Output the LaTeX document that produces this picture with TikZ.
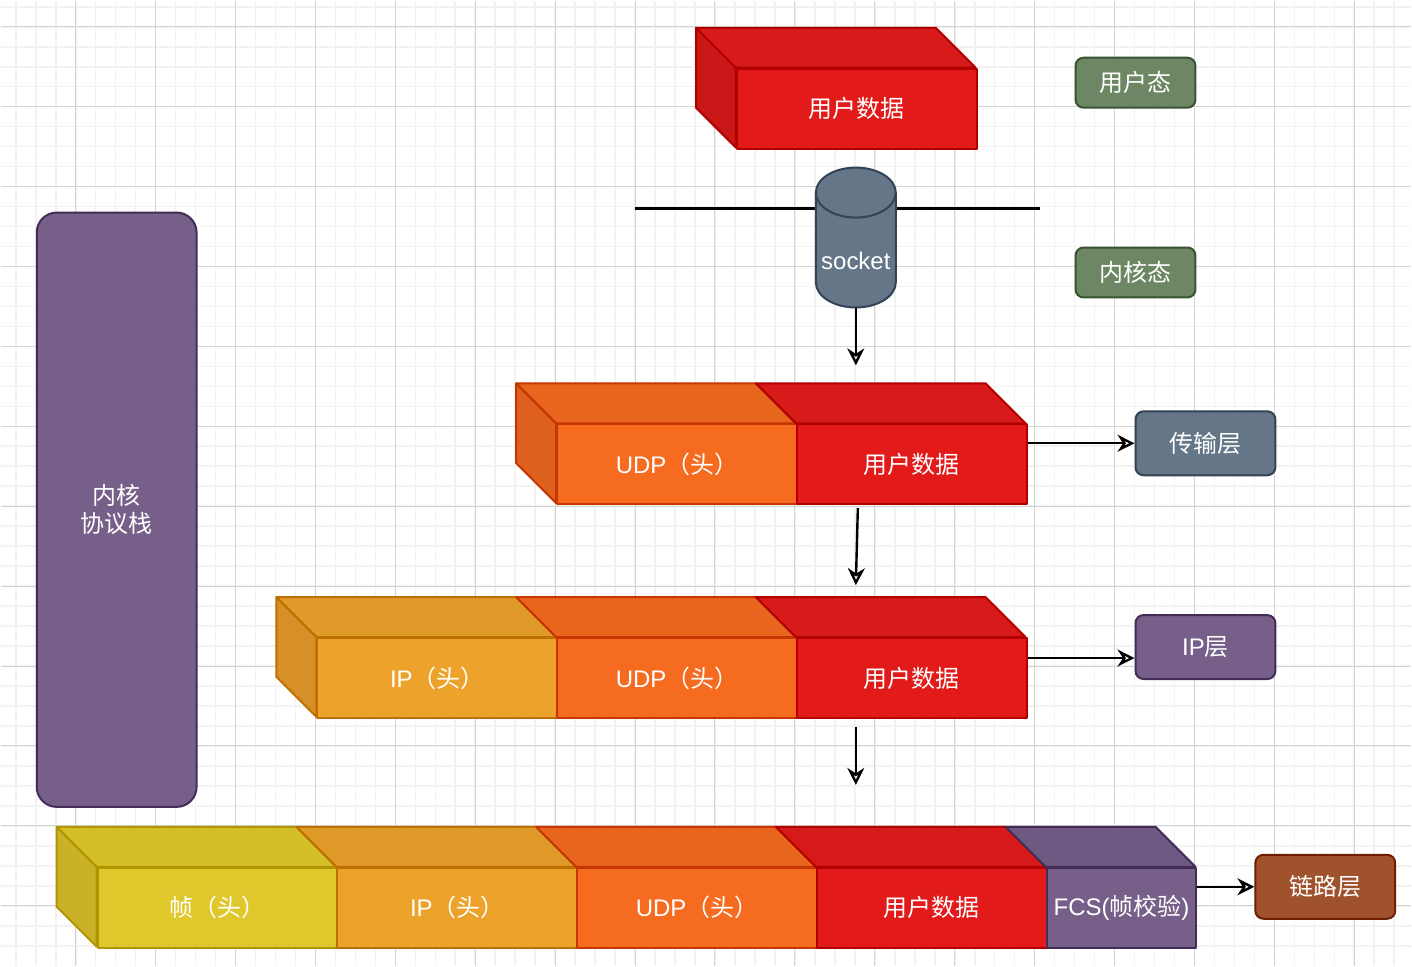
\documentclass[tikz,border=0pt]{standalone}
\usepackage{fontspec}
\setmainfont{Liberation Sans}
\newfontfamily\cjk{Noto Sans CJK SC}
\usetikzlibrary{arrows.meta}

% packet colours: F front, T top, S side, D border
\definecolor{datF}{HTML}{E21A1A}
\definecolor{datT}{HTML}{D71A1A}
\definecolor{datS}{HTML}{CA1717}
\definecolor{datD}{HTML}{B20000}
\definecolor{udpF}{HTML}{F56B1F}
\definecolor{udpT}{HTML}{E8651D}
\definecolor{udpS}{HTML}{DD601E}
\definecolor{udpD}{HTML}{C73500}
\definecolor{ipF}{HTML}{EDA32B}
\definecolor{ipT}{HTML}{E09A29}
\definecolor{ipS}{HTML}{D78F27}
\definecolor{ipD}{HTML}{BD7000}
\definecolor{frmF}{HTML}{E0C72B}
\definecolor{frmT}{HTML}{D5BF29}
\definecolor{frmS}{HTML}{CAB228}
\definecolor{frmD}{HTML}{B09500}
\definecolor{fcsF}{HTML}{76608A}
\definecolor{fcsT}{HTML}{6E5A82}
\definecolor{fcsD}{HTML}{432D57}
% tag colours
\definecolor{grnF}{HTML}{6D8764}
\definecolor{grnD}{HTML}{3A5431}
\definecolor{sltF}{HTML}{647687}
\definecolor{sltD}{HTML}{314354}
\definecolor{brnF}{HTML}{A0522D}
\definecolor{brnD}{HTML}{6D1F00}
\definecolor{gridminor}{HTML}{F2F2F2}
\definecolor{gridmajor}{HTML}{D4D4D4}

\tikzset{
    face/.style={line width=1pt, line join=round},
    seg/.style={face, anchor=north west, minimum height=40pt, inner sep=0pt,
        text=white, font=\fontsize{12}{14}\selectfont},
    tag/.style={face, rounded corners=4pt, inner sep=0pt, text=white,
        font=\fontsize{12}{14}\cjk},
    arr/.style={-{Stealth[open,length=8.5pt,width=8.5pt]}, line width=1.2pt},
}

\begin{document}
\begin{tikzpicture}[x=0.5pt, y=-0.5pt]
        % grid
            \fill[white] (0,0) rectangle (1412,966);
            \foreach \gx in {15,35,...,1395}
                \draw[gridminor, line width=0.8pt] (\gx,0) -- (\gx,966);
            \foreach \gy in {6,26,...,946}
                \draw[gridminor, line width=0.8pt] (0,\gy) -- (1412,\gy);
            \foreach \gx in {75,155,...,1395}
                \draw[gridmajor, line width=0.5pt] (\gx,0) -- (\gx,966);
            \foreach \gy in {26,106,...,946}
                \draw[gridmajor, line width=0.5pt] (0,\gy) -- (1412,\gy);
            \useasboundingbox (0,0) rectangle (1412,966);

        % user data
            \filldraw[face, fill=datS, draw=datD] (696,27) -- (736,67) -- (736,147) -- (696,107) -- cycle;
            \filldraw[face, fill=datT, draw=datD] (696,27) -- (936,27) -- (976,67) -- (736,67) -- cycle;
            \node[seg, fill=datF, draw=datD, minimum width=120pt] (dat1) at (736,67) {\cjk 用户数据};

        % socket
            \coordinate (lnL) at (635,208);
            \coordinate (lnR) at (1040,208);
            \draw[line width=1.2pt] (lnL) -- (lnR);
            \filldraw[face, fill=sltF, draw=sltD] (816,192) -- (816,282)
                arc[start angle=180, end angle=360, x radius=20pt, y radius=12.5pt] -- (896,192)
                arc[start angle=0, end angle=180, x radius=20pt, y radius=12.5pt] -- cycle;
            \draw[face, sltD] (816,192) arc[start angle=180, end angle=360, x radius=20pt, y radius=12.5pt];
            \node[minimum width=40pt, minimum height=70pt, inner sep=0pt] (socket) at (856,237) {};
            \node[text=white, font=\fontsize{12}{14}\selectfont] (socketlbl) at (856,260) {socket};

        % transport layer
            \filldraw[face, fill=udpS, draw=udpD] (516,383) -- (556,423) -- (556,503) -- (516,463) -- cycle;
            \foreach \x/\w/\c/\t in {556/240/udp/{UDP{\cjk （头）}}, 796/230/dat/{{\cjk 用户数据}}}{
                \filldraw[face, fill=\c T, draw=\c D] (\x-40,383) -- (\x+\w-40,383) -- (\x+\w,423) -- (\x,423) -- cycle;
                \node[seg, fill=\c F, draw=\c D, minimum width=\w*0.5pt] (\c2) at (\x,423) {\t};
            }

        % ip layer
            \filldraw[face, fill=ipS, draw=ipD] (276,597) -- (316,637) -- (316,717) -- (276,677) -- cycle;
            \foreach \x/\w/\c/\t in {316/240/ip/{IP{\cjk （头）}}, 556/240/udp/{UDP{\cjk （头）}},
                    796/230/dat/{{\cjk 用户数据}}}{
                \filldraw[face, fill=\c T, draw=\c D] (\x-40,597) -- (\x+\w-40,597) -- (\x+\w,637) -- (\x,637) -- cycle;
                \node[seg, fill=\c F, draw=\c D, minimum width=\w*0.5pt] (\c3) at (\x,637) {\t};
            }

        % link layer
            \filldraw[face, fill=frmS, draw=frmD] (56,827) -- (96,867) -- (96,947) -- (56,907) -- cycle;
            \foreach \x/\w/\c/\t in {96/240/frm/{{\cjk 帧（头）}}, 336/240/ip/{IP{\cjk （头）}},
                    576/240/udp/{UDP{\cjk （头）}}, 816/230/dat/{{\cjk 用户数据}},
                    1046/150/fcs/{FCS({\cjk 帧校验})}}{
                \filldraw[face, fill=\c T, draw=\c D] (\x-40,827) -- (\x+\w-40,827) -- (\x+\w,867) -- (\x,867) -- cycle;
                \node[seg, fill=\c F, draw=\c D, minimum width=\w*0.5pt] (\c4) at (\x,867) {\t};
            }

        % tags
            \node[tag, fill=fcsF, draw=fcsD, rounded corners=10pt, minimum width=80pt,
                minimum height=297.5pt, align=center] (stack) at (116,509.5) {内核\\协议栈};
            \node[tag, fill=grnF, draw=grnD, minimum width=60pt, minimum height=25pt] (user) at (1136,82) {用户态};
            \node[tag, fill=grnF, draw=grnD, minimum width=60pt, minimum height=25pt] (kern) at (1136,272) {内核态};
            \node[tag, fill=sltF, draw=sltD, minimum width=70pt, minimum height=32pt] (tl) at (1206,443) {传输层};
            \node[tag, fill=fcsF, draw=fcsD, minimum width=70pt, minimum height=32pt] (ipl) at (1206,647) {{\rmfamily IP}层};
            \node[tag, fill=brnF, draw=brnD, minimum width=70pt, minimum height=32pt] (link) at (1326,887) {链路层};

        % arrows
            \coordinate (a1) at (856,365);
            \coordinate (a2) at (858,508);
            \coordinate (b2) at (856,585);
            \coordinate (a3) at (856,727);
            \coordinate (b3) at (856,785);
            \draw[arr] (socket.south) -- (a1);
            \draw[arr] (a2) -- (b2);
            \draw[arr] (a3) -- (b3);
            \draw[arr] (dat2.east |- tl.west) -- (tl.west);
            \draw[arr] ([yshift=10pt]dat3.east) -- ([yshift=10pt]dat3.east -| ipl.west);
            \draw[arr] (fcs4.east |- link.west) -- (link.west);
        \end{tikzpicture}
\end{document}
